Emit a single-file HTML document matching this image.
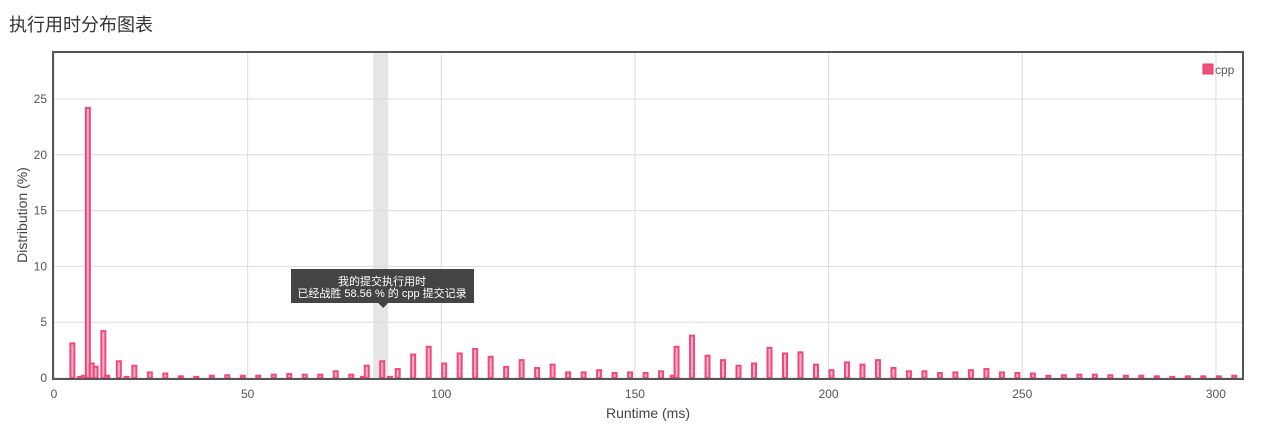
<!DOCTYPE html>
<html><head><meta charset="utf-8"><style>
body{margin:0;width:1272px;height:428px;background:#fff;overflow:hidden;font-family:"Liberation Sans","Noto Sans CJK SC",sans-serif;}
#title{position:absolute;left:9px;top:11px;font-size:18px;color:#333;}
</style></head><body>
<div id="title">执行用时分布图表</div>
<svg id="chart" width="1272" height="428" style="position:absolute;left:0;top:0"></svg>
<script>
const runtimes=[5,7,8,9,10,11,13,14,17,19,21,25,29,33,37,41,45,49,53,57,61,65,69,73,77,80,81,85,87,89,93,97,101,105,109,113,117,121,125,129,133,137,141,145,149,153,157,160,161,165,169,173,177,181,185,189,193,197,201,205,209,213,217,221,225,229,233,237,241,245,249,253,257,261,265,269,273,277,281,285,289,293,297,301,305];
const values=[3.1,0.1,0.2,24.2,1.3,1.0,4.2,0.2,1.5,0.1,1.1,0.5,0.4,0.15,0.1,0.2,0.25,0.2,0.2,0.3,0.35,0.3,0.3,0.6,0.3,0.1,1.1,1.5,0.1,0.8,2.1,2.8,1.3,2.2,2.6,1.9,1.0,1.6,0.9,1.2,0.5,0.5,0.7,0.45,0.5,0.45,0.6,0.2,2.8,3.8,2.0,1.6,1.1,1.3,2.7,2.2,2.3,1.2,0.7,1.4,1.2,1.6,0.9,0.6,0.6,0.45,0.5,0.7,0.8,0.5,0.45,0.4,0.2,0.25,0.3,0.3,0.25,0.2,0.2,0.15,0.1,0.15,0.15,0.15,0.2];
const yTicks=[0,5,10,15,20,25];
const xTicks=[0,50,100,150,200,250,300];
const myRuntime=85;
const svg=document.getElementById('chart');
const NS='http://www.w3.org/2000/svg';
const L=54,R=1242,T=53,B=378;
const xs=v=>L+v*3.873;
const ys=v=>B-v*11.16;
function mk(tag,a,parent){const e=document.createElementNS(NS,tag);for(const k in a)e.setAttribute(k,a[k]);(parent||svg).appendChild(e);return e;}
let band=mk('rect',{x:xs(myRuntime)-10,y:T,width:15,height:B-T,fill:'#e6e6e6'});


yTicks.forEach(t=>{
 let g=mk('line',{x1:L,x2:R,y1:ys(t),y2:ys(t),stroke:'#dcdcdc','stroke-width':1});
 
 
 let tx=mk('text',{x:L-7,y:ys(t)+4,'text-anchor':'end','font-size':12,fill:'#555'});
 tx.textContent=t;
 
 
});
xTicks.forEach(t=>{
 let g=mk('line',{x1:xs(t),x2:xs(t),y1:T,y2:B,stroke:'#dcdcdc','stroke-width':1});
 
 
 let tx=mk('text',{x:xs(t),y:B+20,'text-anchor':'middle','font-size':12,fill:'#555'});
 tx.textContent=t;
 
 
});
runtimes.forEach((r,i)=>{
 const x0=xs(r)-3,h=B-ys(values[i]);
 let b=mk('rect',{x:x0,y:ys(values[i]),width:4,height:Math.max(h,1),fill:'rgba(255,130,170,0.6)',stroke:'#f0487a','stroke-width':2});
 
 
});
let fr=mk('rect',{x:L-1,y:T-1,width:R-L+2,height:B-T+2,fill:'none',stroke:'#555','stroke-width':2});


let yl=mk('text',{x:0,y:0,transform:'translate(27,215) rotate(-90)','text-anchor':'middle','font-size':14,fill:'#444'});
yl.textContent='Distribution (%)';


let xl=mk('text',{x:648,y:418,'text-anchor':'middle','font-size':14,fill:'#444'});
xl.textContent='Runtime (ms)';


let lg=mk('rect',{x:1203,y:64,width:10,height:10,fill:'#f2507b',stroke:'#e03d6a'});


let lt=mk('text',{x:1215,y:74,'font-size':12,fill:'#555'});
lt.textContent='cpp';


const tg=mk('g',{});


mk('rect',{x:291,y:269,width:183,height:34,fill:'#444'},tg);
mk('polygon',{points:(xs(myRuntime)-5)+',303 '+(xs(myRuntime)+5)+',303 '+xs(myRuntime)+',308',fill:'#444'},tg);
let t1=mk('text',{x:382,y:285,'text-anchor':'middle','font-size':11,fill:'#fff'},tg);
t1.textContent='我的提交执行用时';
let t2=mk('text',{x:382,y:297,'text-anchor':'middle','font-size':11,fill:'#fff'},tg);
t2.textContent='已经战胜 58.56 % 的 cpp 提交记录';
</script>
</body></html>
